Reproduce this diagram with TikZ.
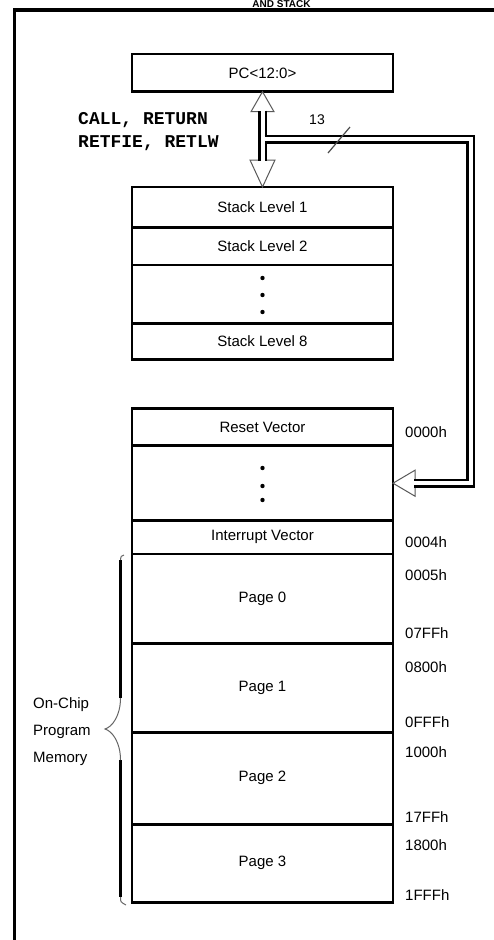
\documentclass[tikz,border=0pt]{standalone}
\usepackage{fontspec}
\setmainfont{Liberation Sans}
\newfontfamily\codefont{Liberation Mono}
\usetikzlibrary{calc}

\begin{document}
\begin{tikzpicture}[
  x=1pt,y=-1pt,
  line cap=butt,line join=miter,
  cell/.style={draw,line width=2.5pt,minimum width=261pt,inner sep=0pt,outer sep=0pt,
    anchor=north,font=\fontsize{15}{18}\selectfont},
  bus/.style={line width=2.5pt,double=white,double distance=4pt},
  hollow/.style={draw=black!65,line width=1pt,fill=white},
  addr/.style={anchor=west,inner sep=0pt,font=\fontsize{15}{18}\selectfont}
]
  \useasboundingbox (0,0) rectangle (493,940);

  % Frame and title
  \draw[line width=3.3pt] (14.3,960) -- (14.3,10) -- (510,10);
  \node[anchor=base,inner sep=0pt,font=\fontsize{10}{11}\selectfont\bfseries] (title) at (281.5,7.6) {AND STACK};

  % PC and stack
  \node[cell,minimum height=37.7pt] (pc) at (262.5,54) {PC<12:0>};
  \foreach \name/\top/\h/\txt in {stk1/187/40.7/Stack Level 1,stk2/227.7/37.3/Stack Level 2,
      stkdots/265/58.3/{},stk8/323.3/36/Stack Level 8}
    \node[cell,minimum height=\h pt] (\name) at (262.5,\top) {\txt};
  \foreach \y in {278,295,312}
    \fill (262.5,\y) circle (2.2);

  % Program memory
  \foreach \name/\top/\h/\txt in {rstvec/408.3/37.4/Reset Vector,vecdots/445.7/75/{},
      intvec/520.7/33.3/Interrupt Vector,page0/554/89.3/Page 0,page1/643.3/89/Page 1,
      page2/732.3/92/Page 2,page3/824.3/78/Page 3}
    \node[cell,minimum height=\h pt] (\name) at (262.5,\top) {\txt};
  \foreach \y in {468,486,500}
    \fill (262.5,\y) circle (2.2);

  % Addresses
  \foreach \y/\a in {431.7/0000h,541.7/0004h,575/0005h,632.7/07FFh,667.3/0800h,
      721.7/0FFFh,752.3/1000h,816.7/17FFh,845/1800h,895/1FFFh}
    \node[addr] (a\a) at (405,\y) {\a};

  % Return address bus
  \draw[hollow] (pc.south) -- ++(-11.5,20) -- ++(23,0) -- cycle;
  \draw[hollow] (stk1.north) -- ++(-12.5,-27) -- ++(25,0) -- cycle;
  \draw[bus] ($(pc.south)+(0,19)$) -- ($(stk1.north)+(0,-26)$);
  \coordinate (tap) at ($(pc.south)+(2,47.3)$);
  \coordinate (busend) at ($(vecdots.east)+(21,0)$);
  \draw[hollow] (vecdots.east) -- ++(22,-13) -- ++(0,26) -- cycle;
  \draw[bus] (tap) -| ($(busend)+(56.5,0)$) -- (busend);
  \draw[line width=1.2pt,black!70] (328,153) -- (350,127);
  \node[inner sep=0pt,font=\fontsize{14}{16}\selectfont] (width) at (317,120) {13};
  \node[anchor=west,align=left,inner sep=0pt,font=\codefont\bfseries\fontsize{18}{23}\selectfont]
    (ops) at (78,132) {CALL, RETURN\\RETFIE, RETLW};

  % Brace
  \draw[line width=2.5pt] (120.5,560) -- (120.5,698) (120.5,760) -- (120.5,897);
  \draw[line width=1pt,black!60] (124,555) .. controls (121,556) .. (120.5,560)
    (120.5,698) .. controls (120.5,716) and (112,727) .. (105,729)
    .. controls (112,731) and (120.5,742) .. (120.5,760)
    (120.5,897) .. controls (120.5,902) .. (126,905);
  \node[anchor=west,align=left,inner sep=0pt,font=\fontsize{15}{27}\selectfont]
    (onchip) at (33,732) {On-Chip\\Program\\Memory};
\end{tikzpicture}
\end{document}
